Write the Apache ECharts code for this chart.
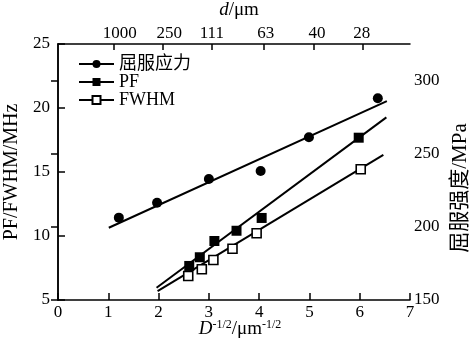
<!DOCTYPE html>
<html>
<head>
<meta charset="utf-8">
<script src="https://cdn.jsdelivr.net/npm/echarts@6/dist/echarts.min.js"></script>
<style>
  html, body { margin: 0; padding: 0; background: #fff; }
  #chart { width: 472px; height: 346px; }
</style>
</head>
<body>
<div id="chart"></div>
<script>
// Yield stress (MPa, right axis) against D^-1/2
const stressX = [1.21, 1.97, 3.00, 4.03, 4.99, 6.36];
const stressY = [206.3, 216.5, 232.7, 238.2, 261.2, 287.9];
const stressFitX = [1.01, 6.54];
const stressFitY = [199.4, 286.0];

// PF (MHz, left axis)
const pfX = [2.61, 2.82, 3.11, 3.55, 4.05, 5.98];
const pfY = [7.66, 8.34, 9.61, 10.41, 11.41, 17.68];
const pfFitX = [1.96, 6.53];
const pfFitY = [5.96, 19.27];

// FWHM (MHz, left axis)
const fwhmX = [2.59, 2.86, 3.09, 3.47, 3.95, 6.02];
const fwhmY = [6.88, 7.40, 8.13, 9.00, 10.21, 15.21];
const fwhmFitX = [1.98, 6.47];
const fwhmFitY = [5.70, 16.33];

// Grain size scale on the top axis
const topTickPos = [1.11, 2.09, 3.06, 4.10, 5.09, 6.06];
const topLabelPos = [1.23, 2.21, 3.06, 4.13, 5.15, 6.04];
const topLabels = ['1000', '250', '111', '63', '40', '28'];

const rightTicks = [150, 200, 250, 300];

const seriesNames = ['屈服应力', 'PF', 'FWHM'];
const rightAxisName = '屈服强度/MPa';

const zip = (xs, ys) => xs.map((x, i) => [x, ys[i]]);

const FONT = '"Liberation Serif", "Noto Sans CJK SC", serif';
const BLACK = '#000';

const baseText = { color: BLACK, fontFamily: FONT, fontSize: 17 };

const fitStyle = { color: BLACK, width: 2 };

function fitSeries(xs, ys, yIndex) {
  return {
    type: 'line',
    yAxisIndex: yIndex,
    data: zip(xs, ys),
    showSymbol: false,
    lineStyle: fitStyle,
    silent: true,
    z: 2
  };
}

const option = {
  backgroundColor: '#fff',
  animation: false,
  grid: { left: 58, right: 62, top: 44, bottom: 46, outerBoundsMode: 'none', containLabel: false },
  legend: {
    orient: 'vertical',
    left: 73,
    top: 50,
    itemWidth: 35,
    itemHeight: 10,
    itemGap: 0,
    data: seriesNames,
    textStyle: { color: BLACK, fontFamily: FONT, fontSize: 18, lineHeight: 17.5 },
    lineStyle: { color: BLACK, width: 2, opacity: 1 },
    selectedMode: false
  },
  // vertical title of the right-hand axis, reading bottom to top
  graphic: [
    {
      type: 'text',
      x: 460,
      y: 188,
      rotation: Math.PI / 2,
      style: {
        text: rightAxisName,
        fill: BLACK,
        font: '21px ' + FONT,
        align: 'center',
        verticalAlign: 'middle'
      }
    }
  ],
  xAxis: [
    {
      type: 'value',
      position: 'bottom',
      min: 0, max: 7, interval: 1,
      splitLine: { show: false },
      axisLine: { lineStyle: { color: BLACK, width: 1.5 } },
      axisTick: { inside: true, length: 7, lineStyle: { color: BLACK, width: 1.5 } },
      axisLabel: Object.assign({}, baseText, { margin: 4 }),
      name: '{i|D}{s|-1/2}/μm{s|-1/2}',
      nameLocation: 'middle',
      nameGap: 19,
      nameMoveOverlap: false,
      nameTextStyle: {
        color: BLACK, fontFamily: FONT, fontSize: 19, padding: [0, 0, 0, 12],
        rich: {
          i: { fontFamily: FONT, fontStyle: 'italic', fontSize: 19, color: BLACK, lineHeight: 20 },
          s: { fontFamily: FONT, fontSize: 12, color: BLACK, verticalAlign: 'top', lineHeight: 12 }
        }
      }
    },
    {
      type: 'value',
      position: 'top',
      min: 0, max: 7,
      splitLine: { show: false },
      axisLine: { lineStyle: { color: BLACK, width: 1.5 } },
      axisTick: { inside: true, length: 6, customValues: topTickPos, lineStyle: { color: BLACK, width: 1.5 } },
      axisLabel: Object.assign({}, baseText, {
        margin: 2,
        customValues: topLabelPos,
        formatter: function (v) {
          let best = 0;
          topLabelPos.forEach((p, i) => { if (Math.abs(p - v) < Math.abs(topLabelPos[best] - v)) best = i; });
          return topLabels[best];
        }
      }),
      name: '{i|d}/μm',
      nameLocation: 'middle',
      nameGap: 24,
      nameMoveOverlap: false,
      nameTextStyle: {
        color: BLACK, fontFamily: FONT, fontSize: 19, padding: [0, 0, 0, 10],
        rich: { i: { fontFamily: FONT, fontStyle: 'italic', fontSize: 19, color: BLACK } }
      }
    }
  ],
  yAxis: [
    {
      type: 'value',
      position: 'left',
      min: 5, max: 25, interval: 5,
      splitLine: { show: false },
      axisLine: { show: true, lineStyle: { color: BLACK, width: 1.5 } },
      axisTick: { show: true, inside: true, length: 7, lineStyle: { color: BLACK, width: 1.5 } },
      axisLabel: Object.assign({}, baseText, { margin: 8 }),
      name: 'PF/FWHM/MHz',
      nameLocation: 'middle',
      nameRotate: 90,
      nameGap: 34,
      nameTextStyle: { color: BLACK, fontFamily: FONT, fontSize: 20 }
    },
    {
      type: 'value',
      position: 'right',
      min: 150, max: 325,
      splitLine: { show: false },
      axisLine: { show: true, lineStyle: { color: BLACK, width: 1.5 } },
      axisTick: { show: true, inside: true, length: 7, customValues: rightTicks, lineStyle: { color: BLACK, width: 1.5 } },
      axisLabel: Object.assign({}, baseText, { margin: 4, customValues: rightTicks })
    }
  ],
  series: [
    {
      name: seriesNames[0],
      type: 'line',
      yAxisIndex: 1,
      data: zip(stressX, stressY),
      symbol: 'circle',
      symbolSize: 10,
      itemStyle: { color: BLACK },
      lineStyle: { width: 0, opacity: 0 },
      z: 3
    },
    {
      name: seriesNames[1],
      type: 'line',
      yAxisIndex: 0,
      data: zip(pfX, pfY),
      symbol: 'rect',
      symbolSize: 10,
      itemStyle: { color: BLACK },
      lineStyle: { width: 0, opacity: 0 },
      z: 3
    },
    {
      name: seriesNames[2],
      type: 'line',
      yAxisIndex: 0,
      data: zip(fwhmX, fwhmY),
      symbol: 'rect',
      symbolSize: 9,
      itemStyle: { color: '#fff', borderColor: BLACK, borderWidth: 1.6 },
      lineStyle: { width: 0, opacity: 0 },
      z: 3
    },
    fitSeries(stressFitX, stressFitY, 1),
    fitSeries(pfFitX, pfFitY, 0),
    fitSeries(fwhmFitX, fwhmFitY, 0)
  ]
};

const chart = echarts.init(document.getElementById('chart'), null, { renderer: 'canvas' });
chart.setOption(option);
</script>
</body>
</html>
